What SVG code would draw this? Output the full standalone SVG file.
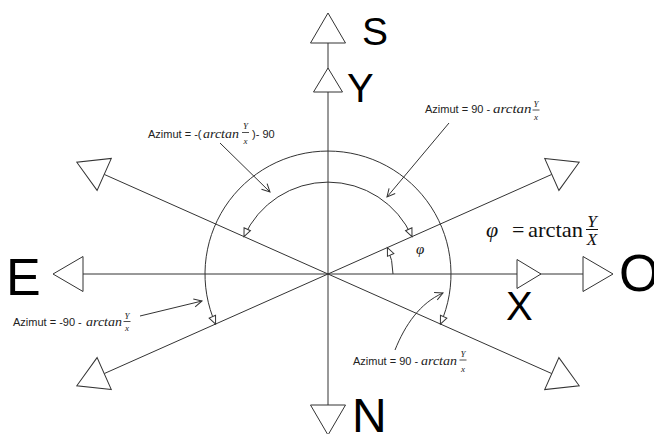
<svg xmlns="http://www.w3.org/2000/svg" xmlns:xlink="http://www.w3.org/1999/xlink" width="654" height="434" viewBox="0 0 654 434">
<style>
.ln{fill:none;stroke:#333;stroke-width:1}
.tri{fill:#fff;stroke:#333;stroke-width:1}
.big{font-family:"Liberation Sans",Arial,sans-serif;fill:#000}
.lab{font-family:"Liberation Sans",Arial,sans-serif;font-size:11px;fill:#222}
.mi{font-family:"Liberation Serif","Times New Roman",serif;font-style:italic;font-size:13px;fill:#222}
.fr{font-family:"Liberation Serif","Times New Roman",serif;font-style:italic;font-size:9px;fill:#222}
.ser{font-family:"Liberation Serif","Times New Roman",serif;fill:#111}
</style>
<defs>
<path id="tb" d="M0,-17.5 L30,0 L0,17.5 Z"/>
<path id="ts" d="M0,-14.5 L24,0 L0,14.5 Z"/>
<marker id="hollow" markerUnits="userSpaceOnUse" viewBox="-10 -6 12 12" markerWidth="12" markerHeight="12" refX="0" refY="0" orient="auto-start-reverse">
<path d="M-8,-3.5 L0,0 L-8,3.5 Z" fill="#fff" stroke="#333" stroke-width="1"/>
</marker>
<marker id="vee" markerUnits="userSpaceOnUse" viewBox="-10 -6 12 12" markerWidth="12" markerHeight="12" refX="0" refY="0" orient="auto">
<path d="M-8,-4 L0,0 L-8,4" fill="none" stroke="#333" stroke-width="1"/>
</marker>
</defs>
<rect width="654" height="434" fill="#fff"/>
<g id="connectors">
<line class="ln" x1="328" y1="43" x2="328" y2="405"/>
<line class="ln" x1="83" y1="274" x2="583" y2="274"/>
<line class="ln" x1="104.2" y1="174.4" x2="551.8" y2="373.6"/>
<line class="ln" x1="551.8" y1="174.4" x2="104.2" y2="373.6"/>
<path class="ln" d="M215.6,324 A123,123 0 1 1 440.4,324" marker-start="url(#hollow)" marker-end="url(#hollow)"/>
<path class="ln" d="M244,236.6 A92,92 0 0 1 412,236.6" marker-start="url(#hollow)" marker-end="url(#hollow)"/>
<path class="ln" d="M393,274 A65,65 0 0 0 387.4,247.6" marker-end="url(#hollow)"/>
<path class="ln" d="M220,143 L270,192" marker-end="url(#vee)"/>
<path class="ln" d="M449,123 L387,197" marker-end="url(#vee)"/>
<path class="ln" d="M140,316 L202,301" marker-end="url(#vee)"/>
<path class="ln" d="M395,350 C405,325 420,303 443,293" marker-end="url(#vee)"/>
</g>
<g id="node-S"><use xlink:href="#tb" href="#tb" class="tri" transform="translate(328,43) rotate(-90)"/><text class="big" x="362" y="45" font-size="39">S</text></g>
<g id="node-Y"><use xlink:href="#ts" href="#ts" class="tri" transform="translate(328,92) rotate(-90)"/><text class="big" x="347" y="102" font-size="40">Y</text></g>
<g id="node-N"><use xlink:href="#tb" href="#tb" class="tri" transform="translate(328,405) rotate(90)"/><text class="big" x="352" y="432" font-size="48">N</text></g>
<g id="node-E"><use xlink:href="#tb" href="#tb" class="tri" transform="translate(83,274) rotate(180)"/><text class="big" x="6" y="295" font-size="52">E</text></g>
<g id="node-X"><use xlink:href="#ts" href="#ts" class="tri" transform="translate(517,274)"/><text class="big" x="506" y="320" font-size="40">X</text></g>
<g id="node-O"><use xlink:href="#tb" href="#tb" class="tri" transform="translate(583,274)"/><text class="big" x="619" y="291" font-size="52">O</text></g>
<g id="node-UR"><use xlink:href="#tb" href="#tb" class="tri" transform="translate(551.8,174.4) rotate(-24)"/></g>
<g id="node-LR"><use xlink:href="#tb" href="#tb" class="tri" transform="translate(551.8,373.6) rotate(24)"/></g>
<g id="node-UL"><use xlink:href="#tb" href="#tb" class="tri" transform="translate(104.2,174.4) rotate(204)"/></g>
<g id="node-LL"><use xlink:href="#tb" href="#tb" class="tri" transform="translate(104.2,373.6) rotate(156)"/></g>
<g id="label-phi"><text class="ser" x="416" y="254" font-size="15" font-style="italic">φ</text></g>
<g id="formula">
<text class="ser" x="486" y="237" font-size="22" font-style="italic">φ</text>
<text class="ser" x="512" y="237" font-size="22">=</text>
<text class="ser" x="528" y="237" font-size="22" textLength="55" lengthAdjust="spacingAndGlyphs">arctan</text>
<text class="ser" x="592" y="227" font-size="17" font-style="italic" text-anchor="middle">Y</text>
<line x1="586" y1="229.5" x2="598" y2="229.5" stroke="#111" stroke-width="1"/>
<text class="ser" x="592" y="245" font-size="17" font-style="italic" text-anchor="middle">X</text>
</g>
<g id="label-1">
<text class="lab" x="148" y="138">Azimut = -(</text>
<text class="mi" x="203" y="138" textLength="36" lengthAdjust="spacingAndGlyphs">arctan</text>
<text class="fr" x="245.5" y="129" text-anchor="middle">Y</text>
<line x1="242" y1="132.5" x2="249" y2="132.5" stroke="#222" stroke-width="0.8"/>
<text class="fr" x="245.5" y="143.5" text-anchor="middle">x</text>
<text class="lab" x="252" y="138">)- 90</text>
</g>
<g id="label-2">
<text class="lab" x="425" y="112.5">Azimut = 90 -</text>
<text class="mi" x="493" y="112.5" textLength="38.5" lengthAdjust="spacingAndGlyphs">arctan</text>
<text class="fr" x="536" y="107" text-anchor="middle">Y</text>
<line x1="532.5" y1="110" x2="539.5" y2="110" stroke="#222" stroke-width="0.8"/>
<text class="fr" x="536" y="119.5" text-anchor="middle">x</text>
</g>
<g id="label-3">
<text class="lab" x="13" y="326">Azimut = -90 -</text>
<text class="mi" x="86" y="326" textLength="36" lengthAdjust="spacingAndGlyphs">arctan</text>
<text class="fr" x="127" y="318.5" text-anchor="middle">Y</text>
<line x1="123.5" y1="321.5" x2="130.5" y2="321.5" stroke="#222" stroke-width="0.8"/>
<text class="fr" x="127" y="331" text-anchor="middle">x</text>
</g>
<g id="label-4">
<text class="lab" x="353" y="365">Azimut = 90 -</text>
<text class="mi" x="421" y="365" textLength="36" lengthAdjust="spacingAndGlyphs">arctan</text>
<text class="fr" x="463" y="357" text-anchor="middle">Y</text>
<line x1="459.5" y1="360" x2="466.5" y2="360" stroke="#222" stroke-width="0.8"/>
<text class="fr" x="463" y="371.5" text-anchor="middle">x</text>
</g>
</svg>
